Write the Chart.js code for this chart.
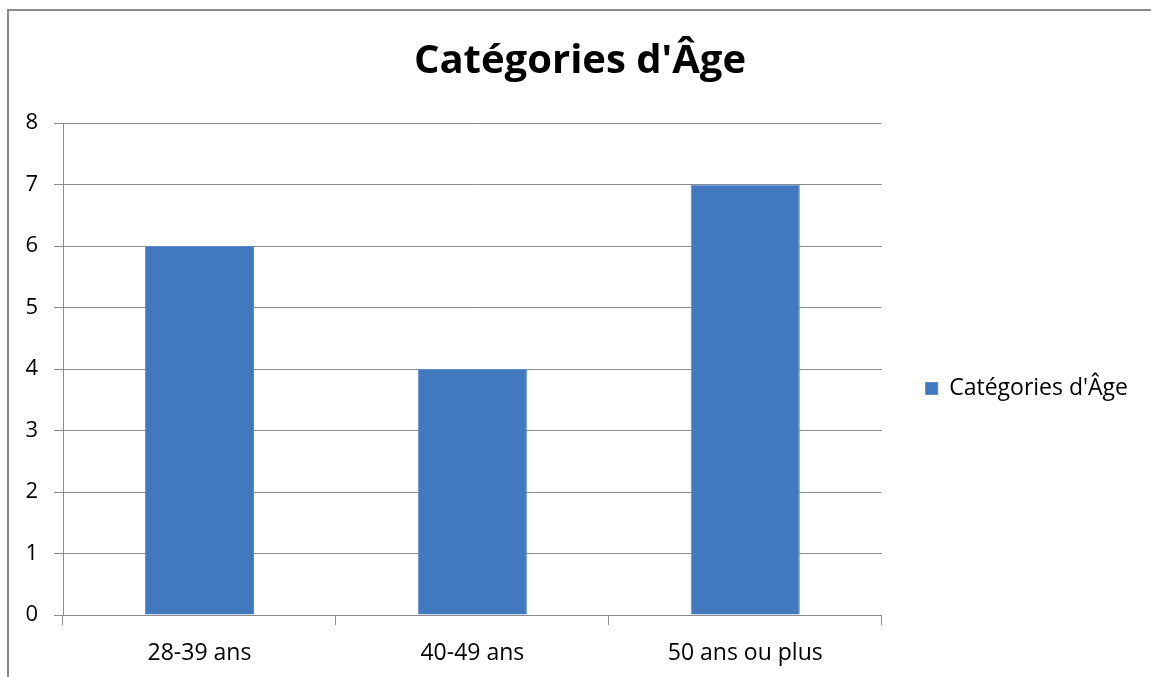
<!DOCTYPE html>
<html lang="fr">
<head>
<meta charset="UTF-8">
<title>Catégories d'Âge</title>
<script src="https://cdn.jsdelivr.net/npm/chart.js"></script>
<style>
  html, body { margin: 0; padding: 0; background: #fff; overflow: hidden; }
  #frame { position: absolute; left: 7px; top: 9px; width: 1160px; height: 700px;
           border-top: 2px solid #8a8a8a; border-left: 2px solid #8a8a8a; }
  #wrap { position: absolute; left: 0; top: 0; width: 1151px; height: 677px; }
</style>
</head>
<body>
<div id="frame"></div>
<div id="wrap"><canvas id="chart"></canvas></div>
<script>
  // data
  const categories = ["28-39 ans", "40-49 ans", "50 ans ou plus"];
  const seriesName = "Catégories d'Âge";
  const values = [6, 4, 7];
  const yTicks = [0, 1, 2, 3, 4, 5, 6, 7, 8];

  const gridGray = "#8c8c8c";
  const font = "Open Sans";

  new Chart(document.getElementById("chart"), {
    type: "bar",
    data: {
      labels: categories,
      datasets: [{
        label: seriesName,
        data: values,
        backgroundColor: "#4178be",
        borderColor: "#5b8ccb",
        borderWidth: 1,
        categoryPercentage: 1,
        barPercentage: 0.4
      }]
    },
    options: {
      responsive: true,
      maintainAspectRatio: false,
      animation: false,
      layout: { padding: { left: 22, right: 13, top: 0, bottom: 0 } },
      plugins: {
        title: {
          display: true,
          text: "Catégories d'Âge",
          color: "#000",
          font: { family: font, size: 40, weight: "bold" },
          padding: { top: 38, bottom: 37 }
        },
        legend: {
          position: "right",
          maxWidth: 400,
          title: { display: true, text: "", font: { size: 10, lineHeight: 1 }, padding: { top: 0, bottom: 90 } },
          labels: {
            boxWidth: 12,
            boxHeight: 12,
            color: "#000",
            font: { family: font, size: 23 },
            padding: 10
          }
        },
        tooltip: { enabled: false }
      },
      scales: {
        x: {
          grid: {
            offset: true,
            drawOnChartArea: false,
            drawTicks: true,
            tickLength: 10,
            color: gridGray
          },
          border: { color: gridGray },
          ticks: { color: "#000", font: { family: font, size: 23 }, padding: 15 },
          afterFit: (s) => { s.height = 62; }
        },
        y: {
          min: yTicks[0],
          max: yTicks[yTicks.length - 1],
          ticks: { stepSize: 1, color: "#000", font: { family: font, size: 22 }, padding: 16 },
          grid: { color: gridGray, tickLength: 9 },
          border: { color: gridGray },
          afterFit: (s) => { s.width = 41; }
        },
        // empty axis used only as the gap between plot and legend
        gap: {
          position: "right",
          grid: { display: false },
          ticks: { display: false },
          border: { display: false },
          afterFit: (s) => { s.width = 34; }
        }
      }
    }
  });
</script>
</body>
</html>
